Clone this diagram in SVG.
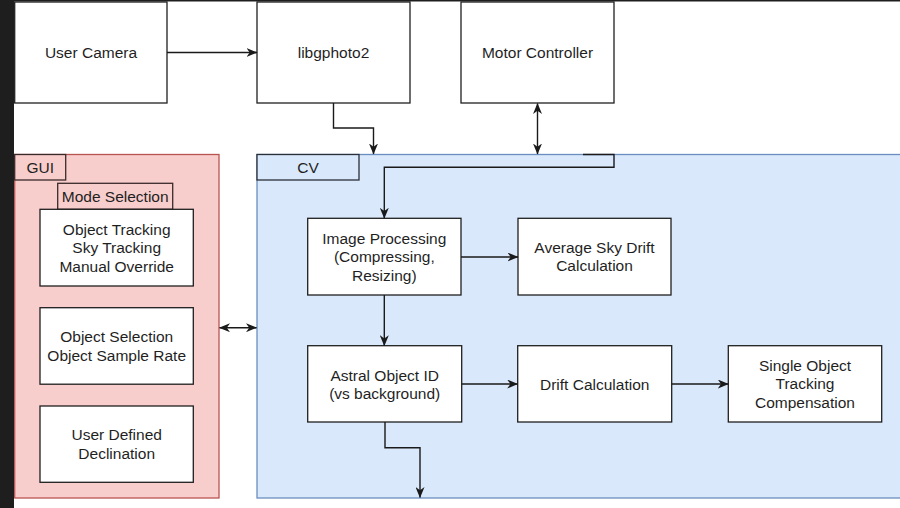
<svg xmlns="http://www.w3.org/2000/svg" width="900" height="508" viewBox="0 0 900 508">
  <defs>
    <style>
      .box { fill: #ffffff; stroke: #1f1f1f; stroke-width: 1.3; }
      .lbl { font-family: "Liberation Sans", Arial, sans-serif; font-size: 15.5px; fill: #1f1f1f; text-anchor: middle; dominant-baseline: central; }
      .edge { fill: none; stroke: #1a1a1a; stroke-width: 1.4; }
      .gui { fill: #f8cecc; stroke: #b85450; stroke-width: 1.3; }
      .gui-tab { fill: #f8cecc; stroke: #3a2a2a; stroke-width: 1.3; }
      .cv { fill: #dae8fc; stroke: #6c8ebf; stroke-width: 1.3; }
      .cv-tab { fill: #dae8fc; stroke: #2a2f38; stroke-width: 1.3; }
    </style>
    <marker id="arrow" viewBox="0 0 11 9" refX="10.5" refY="4.5" markerWidth="11" markerHeight="9" markerUnits="userSpaceOnUse" orient="auto-start-reverse">
      <path d="M0,0 L11,4.5 L0,9 L3.2,4.5 Z" fill="#1a1a1a"/>
    </marker>
  </defs>

  <!-- canvas -->
  <rect x="0" y="0" width="900" height="508" fill="#ffffff"/>
  <rect x="0" y="0" width="14" height="508" fill="#1e1e1e"/>
  <rect x="0" y="0" width="900" height="1.5" fill="#1e1e1e"/>

  <!-- containers -->
  <g id="gui">
    <rect class="gui" x="14.7" y="154.5" width="204.3" height="343.5"/>
    <rect class="gui-tab" x="14.7" y="154.5" width="51" height="25.5"/>
    <text class="lbl" x="40.2" y="167.5" font-size="15">GUI</text>
  </g>
  <g id="cv">
    <rect class="cv" x="257" y="154.5" width="660" height="343.5"/>
    <rect class="cv-tab" x="257" y="154.5" width="102" height="25.5"/>
    <text class="lbl" x="308" y="167.5">CV</text>
  </g>

  <!-- top row -->
  <g id="user-camera">
    <rect class="box" x="14.7" y="2" width="152.3" height="101"/>
    <text class="lbl" x="91" y="52.5">User Camera</text>
  </g>
  <g id="libgphoto2">
    <rect class="box" x="257" y="2" width="153" height="101"/>
    <text class="lbl" x="333.5" y="52.5">libgphoto2</text>
  </g>
  <g id="motor-controller">
    <rect class="box" x="461" y="2" width="153" height="101"/>
    <text class="lbl" x="537.5" y="52.5">Motor Controller</text>
  </g>

  <!-- GUI contents -->
  <g id="mode-selection">
    <rect class="gui-tab" x="57.7" y="183.3" width="115" height="26"/>
    <text class="lbl" x="115.2" y="196.5">Mode Selection</text>
  </g>
  <g id="tracking-modes">
    <rect class="box" x="40" y="209.3" width="153.3" height="76.7"/>
    <text class="lbl" x="116.7" y="229">Object Tracking</text>
    <text class="lbl" x="116.7" y="247.5">Sky Tracking</text>
    <text class="lbl" x="116.7" y="266">Manual Override</text>
  </g>
  <g id="object-selection">
    <rect class="box" x="40" y="307.7" width="153.3" height="76.5"/>
    <text class="lbl" x="116.7" y="336.5">Object Selection</text>
    <text class="lbl" x="116.7" y="355">Object Sample Rate</text>
  </g>
  <g id="user-declination">
    <rect class="box" x="40" y="406" width="153.3" height="76.3"/>
    <text class="lbl" x="116.7" y="434.5">User Defined</text>
    <text class="lbl" x="116.7" y="453">Declination</text>
  </g>

  <!-- CV contents -->
  <g id="image-processing">
    <rect class="box" x="307.7" y="218.3" width="153.3" height="76.7"/>
    <text class="lbl" x="384.3" y="238">Image Processing</text>
    <text class="lbl" x="384.3" y="256.5">(Compressing,</text>
    <text class="lbl" x="384.3" y="275">Resizing)</text>
  </g>
  <g id="avg-sky-drift">
    <rect class="box" x="518" y="218.3" width="153" height="76.7"/>
    <text class="lbl" x="594.5" y="247">Average Sky Drift</text>
    <text class="lbl" x="594.5" y="265.5">Calculation</text>
  </g>
  <g id="astral-object-id">
    <rect class="box" x="307.7" y="345.7" width="154" height="76.3"/>
    <text class="lbl" x="384.7" y="375">Astral Object ID</text>
    <text class="lbl" x="384.7" y="393.5">(vs background)</text>
  </g>
  <g id="drift-calculation">
    <rect class="box" x="517.7" y="345.7" width="154" height="76.3"/>
    <text class="lbl" x="594.7" y="384">Drift Calculation</text>
  </g>
  <g id="single-object-comp">
    <rect class="box" x="728.3" y="345.7" width="153.4" height="76.3"/>
    <text class="lbl" x="805" y="365">Single Object</text>
    <text class="lbl" x="805" y="383.5">Tracking</text>
    <text class="lbl" x="805" y="402">Compensation</text>
  </g>

  <!-- connectors -->
  <g id="connectors">
    <path class="edge" d="M167,52.5 H257" marker-end="url(#arrow)"/>
    <path class="edge" d="M333.5,103 V128 H373.5 V154" marker-end="url(#arrow)"/>
    <path class="edge" d="M537.5,103.5 V154" marker-start="url(#arrow)" marker-end="url(#arrow)"/>
    <path class="edge" d="M583,154.5 H614 V167.3 H384.3 V218.3" marker-end="url(#arrow)"/>
    <path class="edge" d="M461,257 H518" marker-end="url(#arrow)"/>
    <path class="edge" d="M384.3,295 V345.7" marker-end="url(#arrow)"/>
    <path class="edge" d="M461.7,384 H517.7" marker-end="url(#arrow)"/>
    <path class="edge" d="M671.7,384 H728.3" marker-end="url(#arrow)"/>
    <path class="edge" d="M385,422 V447.7 H420 V497.5" marker-end="url(#arrow)"/>
    <path class="edge" d="M219.5,327.7 H256.5" marker-start="url(#arrow)" marker-end="url(#arrow)"/>
  </g>
</svg>
